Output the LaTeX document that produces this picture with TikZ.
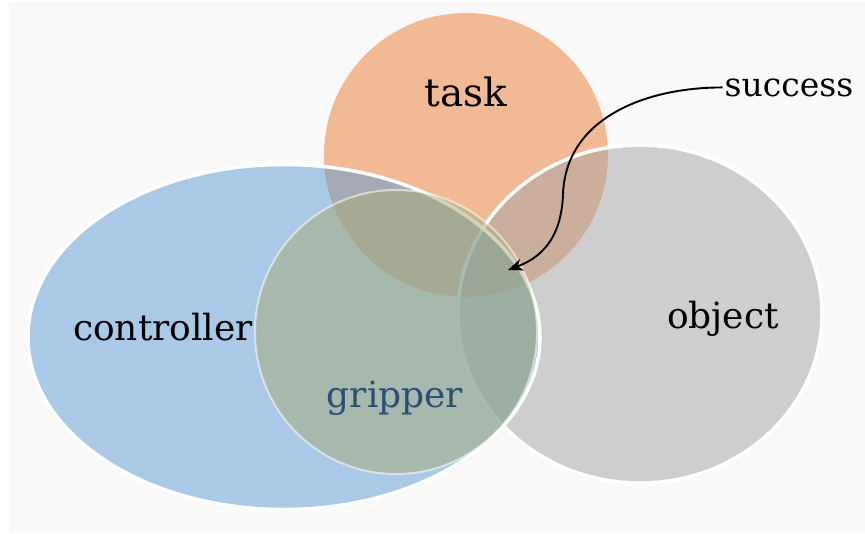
\documentclass[tikz,border=0pt]{standalone}
\usepackage{fontspec}
\setmainfont{DejaVu Serif}
\usetikzlibrary{shapes.geometric,arrows.meta}
\definecolor{pagebg}{HTML}{F9F9F9}
\definecolor{taskfill}{HTML}{ED7D31}
\definecolor{objfill}{HTML}{A5A5A5}
\definecolor{ctrlfill}{HTML}{5B9BD5}
\definecolor{gripfill}{HTML}{A7A976}
\definecolor{griptext}{HTML}{2B4E77}
\begin{document}
\begin{tikzpicture}[x=1pt,y=-1pt,
  set/.style={ellipse, inner sep=0pt, fill opacity=0.5},
  rim/.style={draw=white, line width=3.5pt},
  setname/.style={anchor=base, inner sep=2pt, font=\fontsize{36}{42}\selectfont, text=black},
]
% page
\fill[white] (0,0) rectangle (865,533);
\fill[pagebg] (9,2) rectangle (865,533);
\useasboundingbox (0,0) rectangle (865,533);

% the four overlapping sets
\node[set, fill=taskfill, minimum width=284pt, minimum height=284pt] (task) at (466,155) {};
\node[set, rim, fill=objfill, minimum width=364pt, minimum height=338pt] (object) at (640,314) {};
\node[set, rim, fill=ctrlfill, minimum width=512pt, minimum height=345pt] (controller) at (284,337) {};
\node[set, fill=gripfill, draw=white, draw opacity=0.55, line width=2pt,
      minimum width=282pt, minimum height=284pt] (gripper) at (396,332) {};

% set names
\node[setname, font=\fontsize{39}{45}\selectfont] (tasktext) at (466,106) {task};
\node[setname] (ctrltext) at (163,340) {controller};
\node[setname] (objtext) at (723,328) {object};
\node[setname, text=griptext] (griptext) at (395,407) {gripper};
\node[setname, font=\fontsize{33}{38}\selectfont] (successtext) at (789,96) {success};

% pointer to the common region
\coordinate (hit) at (508,270);
\draw[line width=1.9pt, -{Stealth[length=15pt,width=12pt]}]
  (successtext.west) .. controls +(-80,0) and (565,120) .. (563,195)
  .. controls (561,240) and (540,258) .. (hit);
\end{tikzpicture}
\end{document}
